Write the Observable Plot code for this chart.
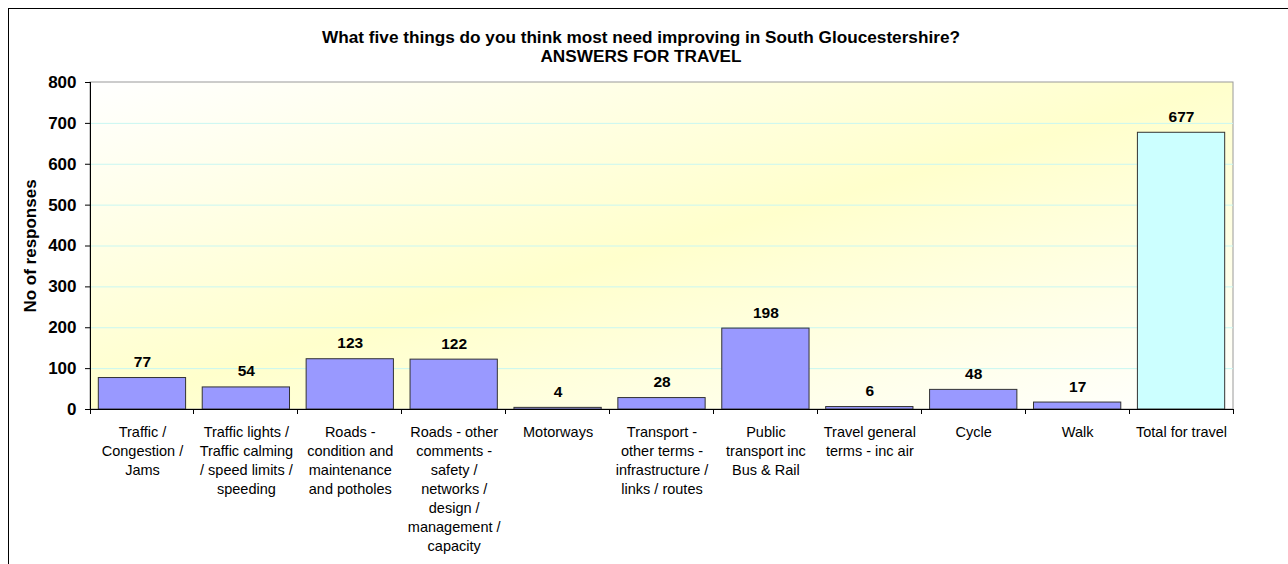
<!DOCTYPE html>
<html><head><meta charset="utf-8">
<script src="https://cdn.jsdelivr.net/npm/d3@7"></script>
<script src="https://cdn.jsdelivr.net/npm/@observablehq/plot@0.6"></script>
<style>
html,body{margin:0;padding:0;background:#fff;overflow:hidden;}
#wrap{position:relative;width:1288px;height:564px;overflow:hidden;}
#border{position:absolute;left:8px;top:8px;width:1400px;height:700px;border:1px solid #000;box-sizing:border-box;pointer-events:none;z-index:2}
#wrap svg{position:absolute;left:0;top:0;}
</style></head><body><div id="wrap"><div id="border"></div></div>
<script>
const categories = [
  "Traffic / Congestion / Jams",
  "Traffic lights / Traffic calming / speed limits / speeding",
  "Roads - condition and maintenance and potholes",
  "Roads - other comments - safety / networks / design / management / capacity",
  "Motorways",
  "Transport - other terms - infrastructure / links / routes",
  "Public transport inc Bus & Rail",
  "Travel general terms - inc air",
  "Cycle",
  "Walk",
  "Total for travel"
];
const tickLabels = [
  "Traffic /\nCongestion /\nJams",
  "Traffic lights /\nTraffic calming\n/ speed limits /\nspeeding",
  "Roads -\ncondition and\nmaintenance\nand potholes",
  "Roads - other\ncomments -\nsafety /\nnetworks /\ndesign /\nmanagement /\ncapacity",
  "Motorways",
  "Transport -\nother terms -\ninfrastructure /\nlinks / routes",
  "Public\ntransport inc\nBus & Rail",
  "Travel general\nterms - inc air",
  "Cycle",
  "Walk",
  "Total for travel"
];
const values = [77, 54, 123, 122, 4, 28, 198, 6, 48, 17, 677];
const yTicks = [0, 100, 200, 300, 400, 500, 600, 700, 800];
const titleLines = ["What five things do you think most need improving in South Gloucestershire?", "ANSWERS FOR TRAVEL"];
const yLabel = "No of responses";
const totalCategory = "Total for travel";

const data = categories.map((c, i) => ({category: c, value: values[i]}));
const labelOf = new Map(categories.map((c, i) => [c, tickLabels[i]]));

function background(index, scales, vals, dim) {
  const g = d3.create("svg:g");
  const lg = g.append("defs").append("linearGradient").attr("id", "bgGrad")
    .attr("x1", "0").attr("y1", "0").attr("x2", "1").attr("y2", "1");
  lg.append("stop").attr("offset", "0").attr("stop-color", "#ffffff");
  lg.append("stop").attr("offset", "0.5").attr("stop-color", "#ffffcc");
  lg.append("stop").attr("offset", "1").attr("stop-color", "#ffffff");
  g.append("rect")
    .attr("x", dim.marginLeft).attr("y", dim.marginTop)
    .attr("width", dim.width - dim.marginLeft - dim.marginRight)
    .attr("height", dim.height - dim.marginTop - dim.marginBottom)
    .attr("fill", "url(#bgGrad)").attr("stroke", "#9a9a9a");
  return g.node();
}

function catTicks(index, scales, vals, dim) {
  const x = scales.x, y = scales.y;
  const step = x.step(), bw = x.bandwidth();
  const y0 = y(0);
  const bounds = categories.map(c => x(c) - (step - bw) / 2);
  bounds.push(bounds[bounds.length - 1] + step);
  const g = d3.create("svg:g").attr("stroke", "#000").attr("shape-rendering", "crispEdges");
  g.append("line").attr("x1", dim.marginLeft).attr("x2", dim.marginLeft)
    .attr("y1", dim.marginTop).attr("y2", y0);
  for (const b of bounds) {
    g.append("line").attr("x1", b).attr("x2", b).attr("y1", y0).attr("y2", y0 + 5);
  }
  return g.node();
}

const plot = Plot.plot({
  width: 1288, height: 564,
  marginLeft: 90, marginRight: 55, marginTop: 82, marginBottom: 155,
  style: {fontFamily: "'Liberation Sans', Arial, sans-serif", background: "transparent", color: "#000"},
  x: {domain: categories, paddingInner: 0.16, paddingOuter: 0.08, round: false, label: null},
  y: {domain: [0, 800], label: null},
  marks: [
    background,
    Plot.gridY(yTicks.slice(1, -1), {stroke: "#c9f7f2", strokeOpacity: 1}),
    Plot.barY(data, {x: "category", y: "value",
      fill: d => d.category === totalCategory ? "#ccffff" : "#9999ff",
      stroke: "#333", strokeWidth: 1}),
    Plot.ruleY([0], {stroke: "#000"}),
    catTicks,
    Plot.axisY(yTicks, {tickSize: 5, tickPadding: 9, fontSize: 17, fontWeight: "bold", color: "#000", label: null}),
    Plot.axisX({tickSize: 0, tickPadding: 14, tickFormat: c => labelOf.get(c), fontSize: 14.5, lineHeight: 19 / 14.5, color: "#000", label: null}),
    Plot.text(data, {x: "category", y: "value", text: d => String(d.value), dy: -16, lineAnchor: "middle", fontWeight: "bold", fontSize: 15.5, fill: "#000"}),
    Plot.text([yLabel], {frameAnchor: "left", text: d => d, rotate: -90, dx: -60, textAnchor: "middle", lineAnchor: "middle", fontWeight: "bold", fontSize: 17, fill: "#000"}),
    Plot.text([titleLines[0]], {frameAnchor: "top", text: d => d, dx: -21, dy: -45, lineAnchor: "middle", fontWeight: "bold", fontSize: 17.2, fill: "#000"}),
    Plot.text([titleLines[1]], {frameAnchor: "top", text: d => d, dx: -21, dy: -26, lineAnchor: "middle", fontWeight: "bold", fontSize: 17.2, fill: "#000"})
  ]
});
document.getElementById("wrap").appendChild(plot);
</script>
</body></html>
